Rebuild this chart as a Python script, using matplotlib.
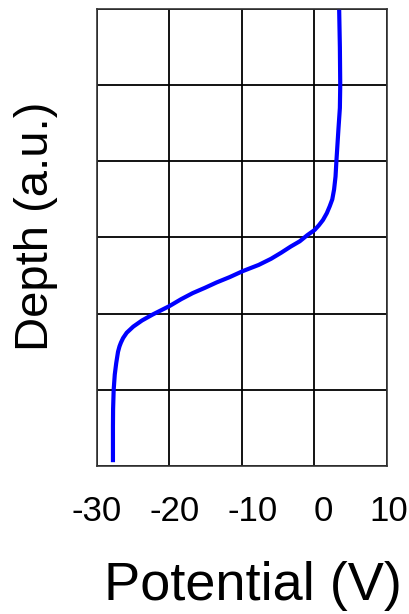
import matplotlib
matplotlib.use("Agg")
import matplotlib.pyplot as plt
from matplotlib.transforms import ScaledTranslation

# Potential profile through the depth of the structure
depth = [0.0, 0.5, 1.0, 1.3, 1.58, 2.0, 2.2, 2.37, 2.5, 2.59, 2.68, 2.77, 2.84, 2.9,
         2.97, 3.05, 3.12, 3.2, 3.28, 3.36, 3.44, 3.52, 3.59, 3.66, 3.73, 3.81, 3.9,
         4.01, 4.09, 4.17, 4.25, 4.32, 4.38, 4.43, 4.5, 4.65, 4.8, 5.0, 5.25, 5.48, 5.95]
potential = [3.4, 3.5, 3.55, 3.5, 3.3, 3.02, 2.9, 2.7, 2.45, 2.1, 1.7, 1.17, 0.6, 0.03,
             -1.0, -2.04, -3.3, -4.6, -6.0, -7.7, -9.86, -11.7, -13.5, -15.1, -16.8, -18.4, -20.0,
             -22.3, -23.8, -25.0, -25.9, -26.4, -26.7, -26.9, -27.1, -27.35, -27.55, -27.7, -27.78, -27.8, -27.8]

x_ticks = [-30, -20, -10, 0, 10]
depth_grid = [0, 1, 2, 3, 4, 5, 6]

plt.rcParams["font.family"] = ["Liberation Sans", "DejaVu Sans"]
plt.rcParams["axes.unicode_minus"] = False

fig = plt.figure(figsize=(4.10, 6.14), dpi=100)
ax = fig.add_axes([97 / 410, 1 - 466 / 614, 290 / 410, 457 / 614])

ax.plot(potential, depth, color="#0000ff", linewidth=3.0, solid_capstyle="butt")

ax.set_xlim(-30, 10)
ax.set_ylim(6, 0)
ax.set_xticks(x_ticks)
ax.set_yticks(depth_grid)
ax.set_yticklabels([])
ax.tick_params(length=0, labelsize=25, pad=21)
ax.grid(True, color="black", linewidth=1.3)
ax.set_axisbelow(True)
for s in ax.spines.values():
    s.set_color("#333333")
    s.set_linewidth(1.2)

# the tick labels sit a little off their grid lines
nudge = [0, 5, 11, 9, 1.5]
for lab, dx in zip(ax.get_xticklabels(), nudge):
    lab.set_transform(lab.get_transform() + ScaledTranslation(dx / 100, 0, fig.dpi_scale_trans))

fig.text(253 / 410, 1 - 600 / 614, "Potential (V)", fontsize=39, ha="center", va="baseline")
fig.text(36 / 410, 1 - 226 / 614, "Depth (a.u.)", fontsize=34, rotation=90,
         ha="center", va="center")

fig.savefig("out.png", dpi=100)
